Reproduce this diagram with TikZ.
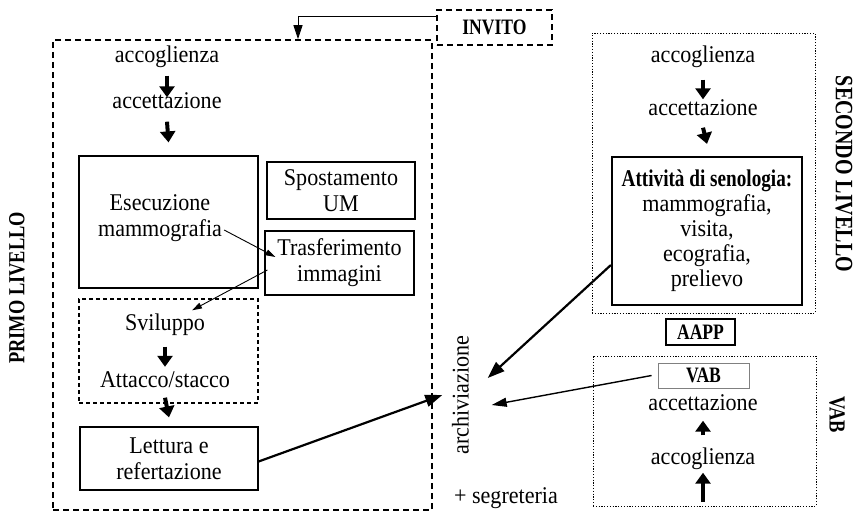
\documentclass[tikz,border=0pt]{standalone}
\usepackage{fontspec}
\setmainfont{Liberation Serif}[FakeStretch=0.92]
\newfontfamily\condbold{Liberation Serif}[FakeStretch=0.8]
\usetikzlibrary{arrows.meta}

\begin{document}
\begin{tikzpicture}[x=1pt,y=-1pt,
  txt/.style={font=\fontsize{24}{26}\selectfont, inner sep=0pt, text height=16pt, text depth=5pt},
  mtxt/.style={font=\fontsize{24}{26}\selectfont, inner sep=0pt, align=center},
  box/.style={draw, line width=1.2pt, font=\fontsize{24}{26}\selectfont, align=center, inner sep=0pt},
  lbl/.style={font=\fontsize{22}{24}\selectfont\condbold\bfseries, inner sep=0pt},
  side/.style={font=\fontsize{23}{24}\selectfont\condbold\bfseries, inner sep=0pt},
  dashbig/.style={draw, line width=1.6pt, dash pattern=on 6pt off 4pt},
  dashsmall/.style={draw, line width=1.1pt, dash pattern=on 4pt off 3pt},
  dotbox/.style={draw, line width=0.8pt, dash pattern=on 1.2pt off 1.6pt},
  flowarr/.style={-{Triangle[length=11pt 0 0,width=15pt 0 0]}, line width=4pt},
  bigarr/.style={-{Triangle[length=17pt 0 0,width=12pt 0 0]}, line width=2.2pt},
  vabarr/.style={-{Triangle[length=15pt 0 0,width=9pt 0 0]}, line width=1.4pt},
  thinarr/.style={-{Triangle[length=10pt 0 0,width=6pt 0 0]}, line width=0.9pt}]
\useasboundingbox (0,0) rectangle (856,514);

\node[dashbig, minimum width=379pt, minimum height=470pt] (primo) at (242.5,275) {};
\node[dashbig, lbl, minimum width=115pt, minimum height=35pt] (invito) at (494.5,27.5) {INVITO};
\node[dotbox, minimum width=223pt, minimum height=280pt] (secondo) at (703.5,173) {};
\node[dotbox, minimum width=223pt, minimum height=150pt] (vab) at (704.5,431) {};

\node[txt] (accg1) at (167,57) {accoglienza};
\node[txt] (acct1) at (167,103) {accettazione};
\node[box, minimum width=179pt, minimum height=132pt] (esec) at (168.5,222) {};
\node[mtxt] (esectxt) at (160,218) {Esecuzione\\mammografia};
\node[box, minimum width=148pt, minimum height=57pt] (spost) at (341,190.5) {Spostamento\\UM};
\node[box, minimum width=149pt, minimum height=64pt] (trasf) at (339.5,263) {Trasferimento\\immagini};
\node[dashsmall, minimum width=179pt, minimum height=104pt] (svilbox) at (168.5,351) {};
\node[txt] (svil) at (165,325) {Sviluppo};
\node[txt] (attacco) at (165,382) {Attacco/stacco};
\node[box, minimum width=178pt, minimum height=63pt] (lett) at (169,458.5) {Lettura e\\refertazione};
\node[txt, rotate=90] (arch) at (463,395) {archiviazione};
\node[txt] (segr) at (506,498) {+ segreteria};

\node[txt] (accg2) at (703,57) {accoglienza};
\node[txt] (acct2) at (703,110) {accettazione};
\node[box, line width=2.2pt, font=\fontsize{24}{25}\selectfont, minimum width=190pt, minimum height=148pt] (att) at (707,231)
  {{\condbold\bfseries Attività di senologia:}\\mammografia,\\visita,\\ecografia,\\prelievo};
\node[box, lbl, minimum width=69pt, minimum height=26pt] (aapp) at (700.5,332) {AAPP};
\node[box, lbl, draw=gray, line width=0.9pt, minimum width=91pt, minimum height=25pt] (vabin) at (703.5,375.5) {VAB};
\node[txt] (acct3) at (703,405) {accettazione};
\node[txt] (accg3) at (703,459) {accoglienza};
\coordinate (vabfoot) at (703,502);

\node[side, rotate=90] (primolbl) at (17,288) {PRIMO LIVELLO};
\node[side, font=\fontsize{25}{26}\selectfont\condbold\bfseries, rotate=-90] (secondolbl) at (844,174) {SECONDO\hspace{6pt}LIVELLO};
\node[side, rotate=-90] (vablbl) at (837,415) {VAB};

\draw[thinarr, -{Triangle[length=14pt 0 0,width=9pt 0 0]}] ([yshift=11.5pt]invito.west) -| ([xshift=55.5pt]primo.north);
\draw[flowarr] ([yshift=-8pt]accg1.south) -- ([yshift=-5pt]acct1.north);
\draw[flowarr] ([yshift=-8pt]acct1.south) -- ([yshift=13pt]esec.north);
\draw[thinarr] ([shift={(2pt,-12pt)}]esectxt.east) -- ([shift={(11pt,6pt)}]trasf.west);
\draw[thinarr] ([shift={(3pt,-7pt)}]trasf.west) -- ([shift={(27pt,4pt)}]svil.north);
\draw[flowarr] ([yshift=-11pt]svil.south) -- ([yshift=4.5pt]attacco.north);
\draw[flowarr] ([yshift=-5pt]attacco.south) -- ([yshift=9pt]lett.north);
\draw[bigarr] ([yshift=-3pt]lett.east) -- ([xshift=-10pt]arch.north);
\draw[flowarr] ([yshift=-12pt]accg2.south) -- (acct2.north);
\draw[flowarr] ([yshift=-7pt]acct2.south) -- ([yshift=12pt]att.north);
\draw[bigarr] ([yshift=-34pt]att.west) -- ([shift={(14pt,17pt)}]arch.south);
\draw[vabarr] ([xshift=-6pt]vabin.west) -- ([shift={(18pt,-10pt)}]arch.south);
\draw[flowarr] ([yshift=13pt]accg3.north) -- ([yshift=-5pt]acct3.south);
\draw[flowarr] (vabfoot) -- ([yshift=-3pt]accg3.south);
\end{tikzpicture}
\end{document}
